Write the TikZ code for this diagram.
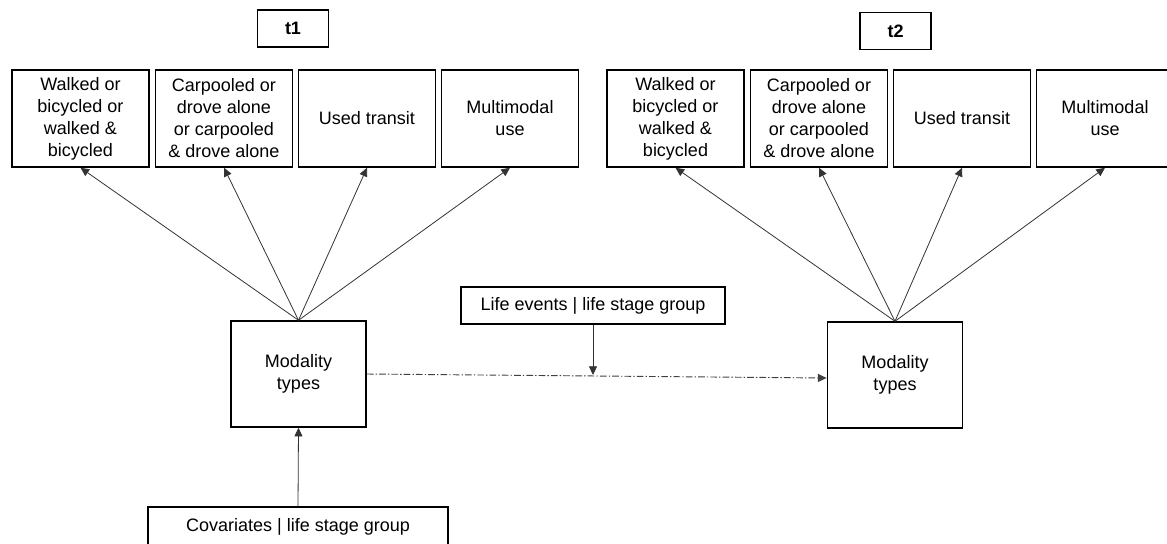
\documentclass[tikz,border=0pt]{standalone}
\usepackage{fontspec}
\setmainfont{Liberation Sans}
\usetikzlibrary{arrows.meta}

\begin{document}
\begin{tikzpicture}
[x=0.75pt,y=-0.75pt,
every node/.style={font=\fontsize{13.5}{16.5}\selectfont,align=center,inner sep=0pt},
onearrow/.style = {-{Triangle[length=6.5pt,width=6pt]},color=black!80,line width=0.6pt},
dasharrow/.style = {-{Triangle[length=6.5pt,width=6pt]},color=black!75,line width=0.7pt,
        dash pattern=on 5pt off 1.6pt on 1pt off 1.6pt},
box/.style = {rectangle,draw=black,line width=1.1pt,minimum width=102.75pt,
        minimum height=72.75pt},
mbox/.style = {rectangle,draw=black,line width=1.1pt,minimum width=101.5pt,
        minimum height=79.5pt},
wbox/.style = {rectangle,draw=black,line width=1.1pt,minimum height=28pt},
tbox/.style = {rectangle,draw=black,line width=1.1pt,minimum width=53.5pt,
        minimum height=27.5pt,font=\fontsize{13.5}{16.5}\selectfont\bfseries}]
\useasboundingbox (0,0) rectangle (1167,543);

\node[tbox] (time-one) at (293,28.5) {t1};
   \node[tbox] (time-two) at (895.5,31) {t2};

   \node[box] (walk-one) at (80.5,118.5) {Walked or\\bicycled or\\walked \&\\bicycled};
   \node[box] (car-one) at (224,118.5) {Carpooled or\\drove alone\\or carpooled\\\& drove alone};
   \node[box] (transit-one) at (367,118.5) {Used transit};
   \node[box] (multi-one) at (510,118.5) {Multimodal\\use};

   \node[box] (walk-two) at (675.5,118.5) {Walked or\\bicycled or\\walked \&\\bicycled};
   \node[box] (car-two) at (819,118.5) {Carpooled or\\drove alone\\or carpooled\\\& drove alone};
   \node[box] (transit-two) at (962,118.5) {Used transit};
   \node[box] (multi-two) at (1105,118.5) {Multimodal\\use};

   \node[mbox] (mod-one) at (298.5,374) {Modality\\types};
   \node[mbox] (mod-two) at (895,375) {Modality\\types};
   \node[wbox,minimum width=198pt] (life) at (593,305.5) {Life events | life stage group};
   \node[wbox,minimum width=225pt,minimum height=30pt] (cov) at (298,527) {Covariates | life stage group};

   \path[onearrow] (mod-one.north) edge (walk-one.south) ;
   \path[onearrow] (mod-one.north) edge (car-one.south) ;
   \path[onearrow] (mod-one.north) edge (transit-one.south) ;
   \path[onearrow] (mod-one.north) edge (multi-one.south) ;

   \path[onearrow] (mod-two.north) edge (walk-two.south) ;
   \path[onearrow] (mod-two.north) edge (car-two.south) ;
   \path[onearrow] (mod-two.north) edge (transit-two.south) ;
   \path[onearrow] (mod-two.north) edge (multi-two.south) ;

   \path[dasharrow] (mod-one.east) edge ([yshift=-2.25pt]mod-two.west) ;
   \path[onearrow] (life.south) edge ([yshift=-0.75pt]life.south |- mod-one.east) ;
   \path[onearrow] (cov.north) edge (mod-one.south) ;
%
%\node (hit) at (593,375) {};
\end{tikzpicture}
\end{document}
